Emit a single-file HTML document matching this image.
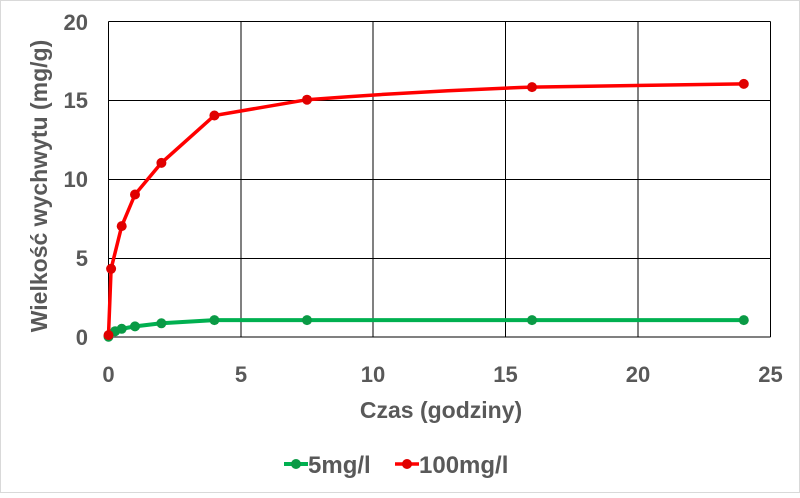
<!DOCTYPE html>
<html><head><meta charset="utf-8"><style>
body{margin:0;background:#fff}
svg text{font-family:"Liberation Sans",sans-serif;font-weight:bold;fill:#595959}
</style></head><body>
<svg width="800" height="493" viewBox="0 0 800 493">
<rect x="0.5" y="0.5" width="799" height="492" fill="#fff" stroke="#d9d9d9"/>
<g stroke="#000" stroke-width="1">
<line x1="108.5" y1="21.5" x2="770.5" y2="21.5"/>
<line x1="108.5" y1="100.5" x2="770.5" y2="100.5"/>
<line x1="108.5" y1="179.5" x2="770.5" y2="179.5"/>
<line x1="108.5" y1="258.5" x2="770.5" y2="258.5"/>
<line x1="108.5" y1="337" x2="770.5" y2="337"/>
<line x1="108.5" y1="21.5" x2="108.5" y2="337"/>
<line x1="241" y1="21.5" x2="241" y2="337"/>
<line x1="373" y1="21.5" x2="373" y2="337"/>
<line x1="505.5" y1="21.5" x2="505.5" y2="337"/>
<line x1="638" y1="21.5" x2="638" y2="337"/>
<line x1="770.5" y1="21.5" x2="770.5" y2="337"/>
</g>
<g font-size="22" text-anchor="end">
<text x="88" y="345">0</text><text x="88" y="266">5</text><text x="88" y="187">10</text><text x="88" y="108">15</text><text x="88" y="30">20</text>
</g>
<g font-size="22" text-anchor="middle">
<text x="108.5" y="382">0</text><text x="241" y="382">5</text><text x="373" y="382">10</text><text x="505.5" y="382">15</text><text x="638" y="382">20</text><text x="770.5" y="382">25</text>
</g>
<text x="441" y="418" font-size="23" text-anchor="middle">Czas (godziny)</text>
<text transform="translate(47,186) rotate(-90)" font-size="23" text-anchor="middle">Wielkość wychwytu (mg/g)</text>
<polyline fill="none" stroke="#00b050" stroke-width="4" points="108.5,336.7 115.1,331.2 121.7,328.8 135,326.4 161.4,323.3 214.4,320.1 307,320.1 532,320.1 743.8,320.1"/>
<g fill="#0a9a45">
<circle cx="108.5" cy="336.7" r="5"/><circle cx="115.1" cy="331.2" r="5"/><circle cx="121.7" cy="328.8" r="5"/><circle cx="135" cy="326.4" r="5"/><circle cx="161.4" cy="323.3" r="5"/><circle cx="214.4" cy="320.1" r="5"/><circle cx="307" cy="320.1" r="5"/><circle cx="532" cy="320.1" r="5"/><circle cx="743.8" cy="320.1" r="5"/>
</g>
<path fill="none" stroke="#ff0000" stroke-width="3.5" d="M108.5,335.1 L111.1,268.8 L121.7,226.1 L135,194.5 L161.4,162.9 L214.4,115.5 L307,99.7 Q420,91 532,87.1 L743.8,83.9"/>
<g fill="#e00000">
<circle cx="108.5" cy="335.1" r="5"/><circle cx="111.1" cy="268.8" r="5"/><circle cx="121.7" cy="226.1" r="5"/><circle cx="135" cy="194.5" r="5"/><circle cx="161.4" cy="162.9" r="5"/><circle cx="214.4" cy="115.5" r="5"/><circle cx="307" cy="99.7" r="5"/><circle cx="532" cy="87.1" r="5"/><circle cx="743.8" cy="83.9" r="5"/>
</g>
<line x1="284" y1="464" x2="308" y2="464" stroke="#00b050" stroke-width="4"/>
<circle cx="296" cy="464" r="5" fill="#0a9a45"/>
<text x="308" y="473" font-size="24">5mg/l</text>
<line x1="395" y1="464" x2="419" y2="464" stroke="#ff0000" stroke-width="3.5"/>
<circle cx="407" cy="464" r="5" fill="#e00000"/>
<text x="419" y="473" font-size="24">100mg/l</text>
</svg>
</body></html>
